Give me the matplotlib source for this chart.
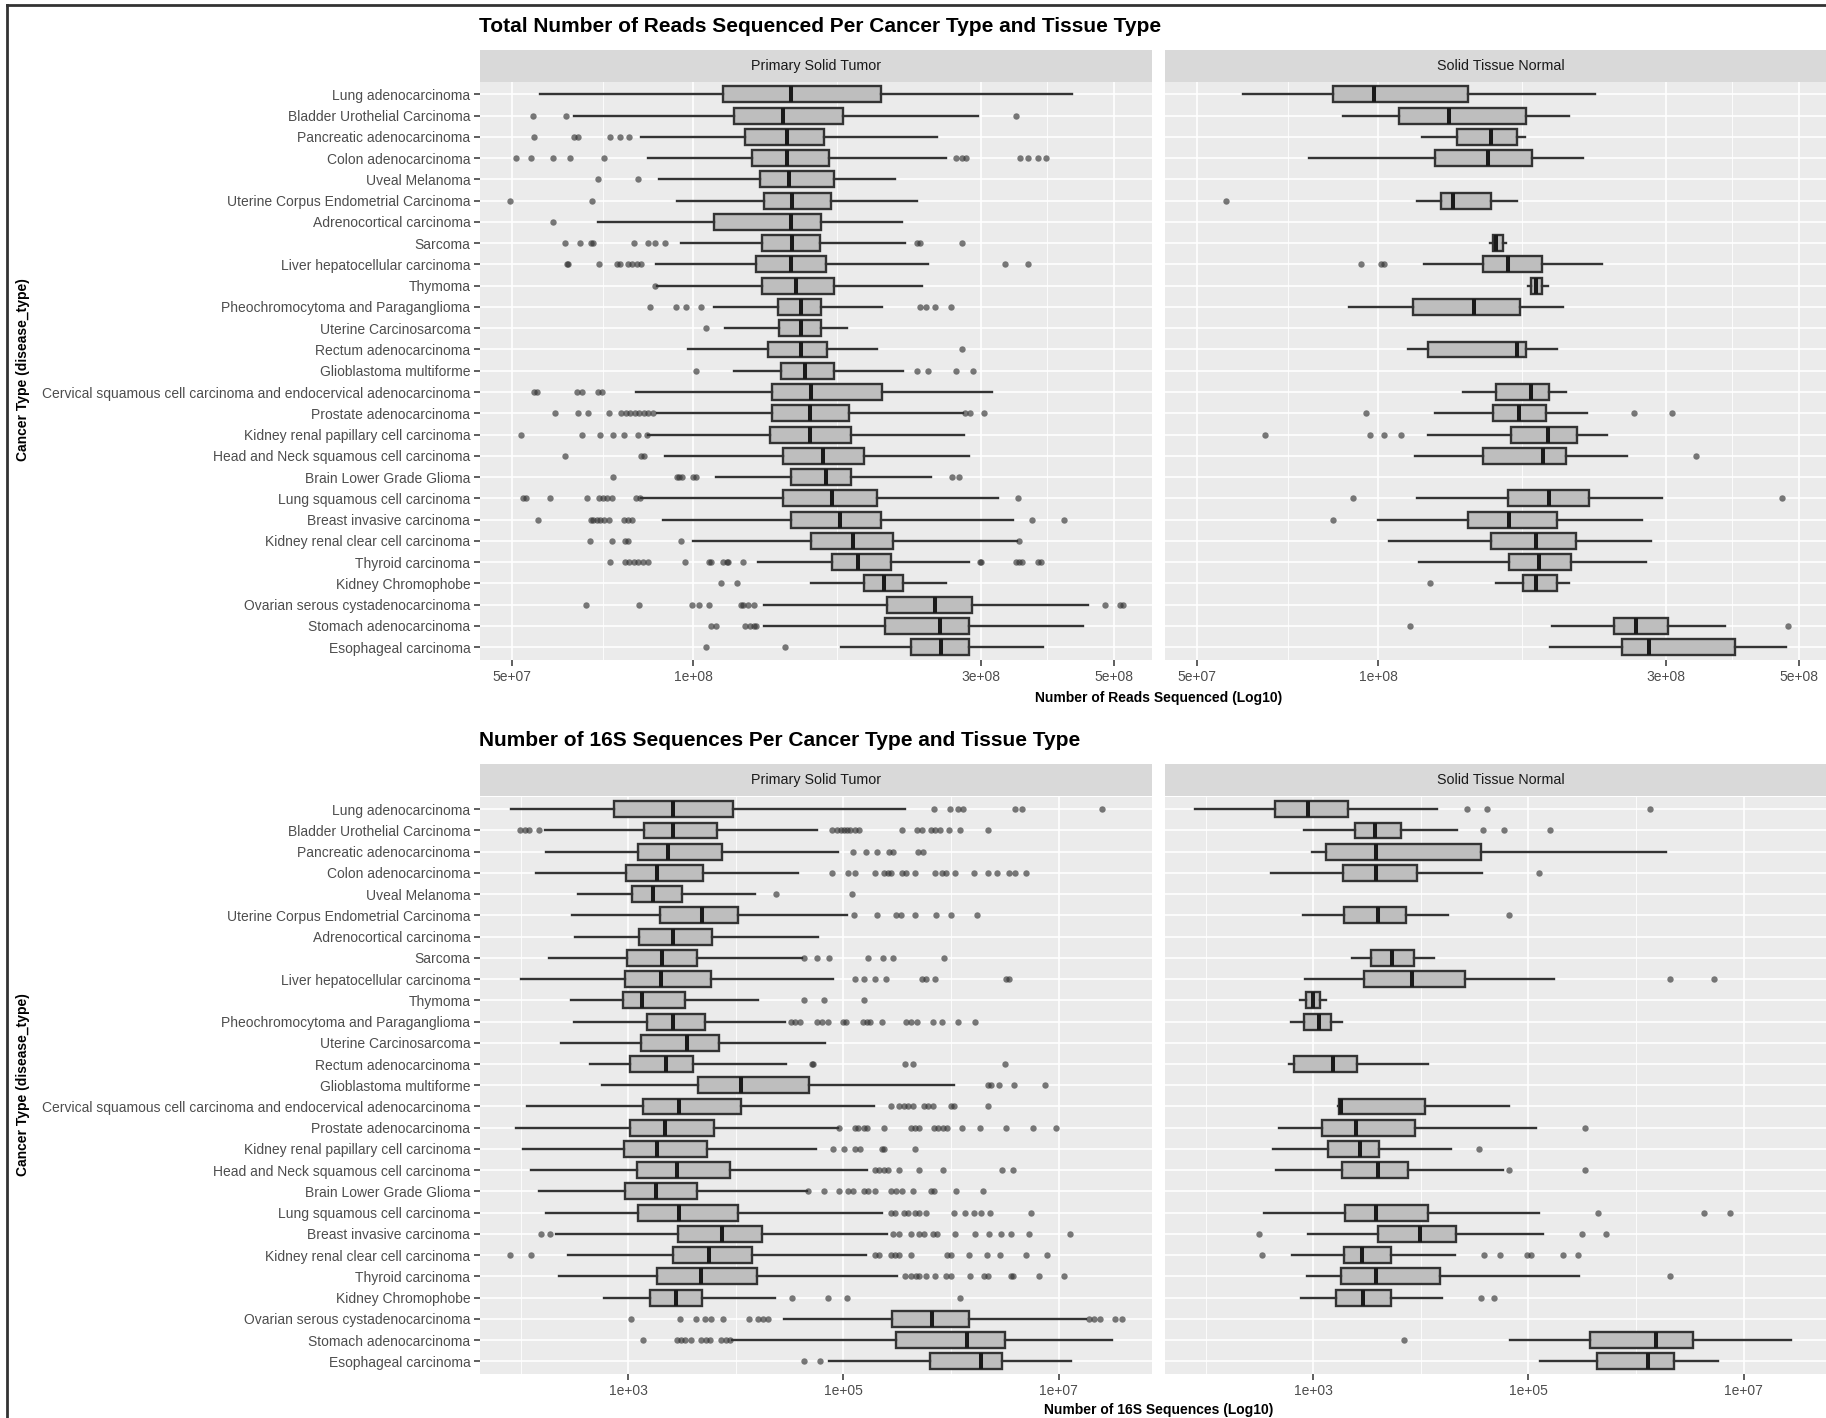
import matplotlib
matplotlib.use("Agg")
import matplotlib.pyplot as plt
from matplotlib.lines import Line2D
from matplotlib.ticker import FixedLocator, FixedFormatter, NullFormatter

plt.rcParams['font.family'] = ['Liberation Sans', 'DejaVu Sans']

categories = [
    "Lung adenocarcinoma", "Bladder Urothelial Carcinoma", "Pancreatic adenocarcinoma",
    "Colon adenocarcinoma", "Uveal Melanoma", "Uterine Corpus Endometrial Carcinoma",
    "Adrenocortical carcinoma", "Sarcoma", "Liver hepatocellular carcinoma", "Thymoma",
    "Pheochromocytoma and Paraganglioma", "Uterine Carcinosarcoma", "Rectum adenocarcinoma",
    "Glioblastoma multiforme",
    "Cervical squamous cell carcinoma and endocervical adenocarcinoma",
    "Prostate adenocarcinoma", "Kidney renal papillary cell carcinoma",
    "Head and Neck squamous cell carcinoma", "Brain Lower Grade Glioma",
    "Lung squamous cell carcinoma", "Breast invasive carcinoma",
    "Kidney renal clear cell carcinoma", "Thyroid carcinoma", "Kidney Chromophobe",
    "Ovarian serous cystadenocarcinoma", "Stomach adenocarcinoma", "Esophageal carcinoma",
]
facets = ["Primary Solid Tumor", "Solid Tissue Normal"]

# box stats per category: (whisker low, q1, median, q3, whisker high)
reads_tumor_box = [
    (5.56e7, 1.12e8, 1.45e8, 2.05e8, 4.25e8), (6.34e7, 1.17e8, 1.41e8, 1.77e8, 2.97e8),
    (8.17e7, 1.22e8, 1.43e8, 1.65e8, 2.54e8), (8.41e7, 1.25e8, 1.43e8, 1.68e8, 2.63e8),
    (8.78e7, 1.29e8, 1.44e8, 1.71e8, 2.16e8), (9.40e7, 1.31e8, 1.46e8, 1.69e8, 2.35e8),
    (6.93e7, 1.08e8, 1.45e8, 1.63e8, 2.22e8), (9.52e7, 1.30e8, 1.46e8, 1.62e8, 2.25e8),
    (8.66e7, 1.27e8, 1.45e8, 1.66e8, 2.45e8), (8.71e7, 1.30e8, 1.48e8, 1.71e8, 2.40e8),
    (1.08e8, 1.38e8, 1.51e8, 1.63e8, 2.06e8), (1.13e8, 1.39e8, 1.51e8, 1.63e8, 1.80e8),
    (9.81e7, 1.33e8, 1.51e8, 1.67e8, 2.02e8), (1.17e8, 1.40e8, 1.53e8, 1.71e8, 2.23e8),
    (8.02e7, 1.35e8, 1.57e8, 2.06e8, 3.13e8), (8.71e7, 1.35e8, 1.56e8, 1.81e8, 2.81e8),
    (8.41e7, 1.34e8, 1.56e8, 1.83e8, 2.82e8), (8.98e7, 1.41e8, 1.64e8, 1.92e8, 2.87e8),
    (1.09e8, 1.45e8, 1.66e8, 1.83e8, 2.48e8), (8.19e7, 1.41e8, 1.70e8, 2.02e8, 3.21e8),
    (8.90e7, 1.45e8, 1.75e8, 2.05e8, 3.39e8), (1.00e8, 1.57e8, 1.84e8, 2.15e8, 3.45e8),
    (1.28e8, 1.70e8, 1.88e8, 2.13e8, 2.87e8), (1.57e8, 1.92e8, 2.07e8, 2.23e8, 2.63e8),
    (1.31e8, 2.10e8, 2.52e8, 2.90e8, 4.52e8), (1.31e8, 2.08e8, 2.57e8, 2.87e8, 4.44e8),
    (1.76e8, 2.30e8, 2.58e8, 2.87e8, 3.81e8),
]
reads_tumor_out = [
    [],
    [5.41e7, 6.15e7, 3.44e8],
    [5.44e7, 6.34e7, 6.42e7, 7.27e7, 7.55e7, 7.83e7],
    [5.08e7, 5.37e7, 5.84e7, 6.23e7, 7.11e7, 2.73e8, 2.79e8, 2.84e8, 3.49e8, 3.60e8, 3.74e8, 3.86e8],
    [6.94e7, 8.09e7],
    [4.96e7, 6.78e7],
    [5.84e7],
    [6.11e7, 6.49e7, 6.77e7, 6.82e7, 7.96e7, 8.41e7, 8.63e7, 8.98e7, 2.35e8, 2.38e8, 2.79e8],
    [6.16e7, 6.20e7, 6.97e7, 7.46e7, 7.56e7, 7.79e7, 7.92e7, 8.06e7, 8.17e7, 3.29e8, 3.60e8],
    [8.63e7],
    [8.47e7, 9.37e7, 9.73e7, 1.03e8, 2.38e8, 2.43e8, 2.52e8, 2.68e8],
    [1.05e8],
    [2.79e8],
    [1.01e8, 2.35e8, 2.45e8, 2.73e8, 2.91e8],
    [5.44e7, 5.50e7, 6.40e7, 6.53e7, 6.94e7, 7.04e7],
    [5.88e7, 6.42e7, 6.68e7, 7.24e7, 7.59e7, 7.72e7, 7.86e7, 8.00e7, 8.13e7, 8.27e7, 8.41e7,
     8.56e7, 2.83e8, 2.88e8, 3.04e8],
    [5.18e7, 6.52e7, 7.00e7, 7.34e7, 7.68e7, 8.09e7, 8.38e7],
    [6.13e7, 8.17e7, 8.27e7],
    [7.34e7, 9.40e7, 9.48e7, 9.56e7, 9.98e7, 1.01e8, 2.69e8, 2.76e8],
    [5.21e7, 5.28e7, 5.77e7, 6.65e7, 6.97e7, 7.07e7, 7.19e7, 7.31e7, 8.02e7, 8.15e7, 3.46e8],
    [5.51e7, 6.75e7, 6.82e7, 6.91e7, 7.00e7, 7.10e7, 7.23e7, 7.66e7, 7.79e7, 7.92e7, 3.65e8, 4.12e8],
    [6.73e7, 7.31e7, 7.70e7, 7.79e7, 9.53e7, 3.47e8],
    [7.27e7, 7.70e7, 7.83e7, 7.96e7, 8.09e7, 8.24e7, 8.41e7, 9.70e7, 1.06e8, 1.07e8, 1.12e8,
     1.135e8, 1.14e8, 1.21e8, 2.99e8, 3.01e8, 3.44e8, 3.48e8, 3.51e8, 3.73e8, 3.78e8],
    [1.11e8, 1.18e8],
    [6.62e7, 8.13e7, 9.95e7, 1.02e8, 1.06e8, 1.20e8, 1.21e8, 1.23e8, 1.26e8, 4.82e8, 5.12e8, 5.18e8],
    [1.07e8, 1.09e8, 1.22e8, 1.24e8, 1.26e8, 1.27e8],
    [1.05e8, 1.42e8],
]

reads_normal_box = [
    (5.95e7, 8.42e7, 9.82e7, 1.41e8, 2.29e8), (8.72e7, 1.08e8, 1.31e8, 1.76e8, 2.07e8),
    (1.18e8, 1.35e8, 1.54e8, 1.70e8, 1.75e8), (7.67e7, 1.24e8, 1.52e8, 1.80e8, 2.19e8),
    None, (1.16e8, 1.27e8, 1.33e8, 1.54e8, 1.70e8),
    None, (1.53e8, 1.55e8, 1.57e8, 1.61e8, 1.63e8),
    (1.19e8, 1.49e8, 1.64e8, 1.87e8, 2.35e8), (1.77e8, 1.79e8, 1.83e8, 1.87e8, 1.91e8),
    (8.95e7, 1.14e8, 1.44e8, 1.72e8, 2.03e8), None,
    (1.12e8, 1.21e8, 1.70e8, 1.76e8, 1.98e8), None,
    (1.38e8, 1.57e8, 1.79e8, 1.92e8, 2.05e8), (1.24e8, 1.55e8, 1.71e8, 1.90e8, 2.22e8),
    (1.21e8, 1.66e8, 1.91e8, 2.14e8, 2.40e8), (1.15e8, 1.49e8, 1.88e8, 2.05e8, 2.59e8),
    None, (1.16e8, 1.64e8, 1.92e8, 2.24e8, 2.96e8),
    (1.00e8, 1.41e8, 1.65e8, 1.98e8, 2.74e8), (1.04e8, 1.54e8, 1.83e8, 2.13e8, 2.84e8),
    (1.17e8, 1.65e8, 1.85e8, 2.09e8, 2.78e8), (1.57e8, 1.74e8, 1.83e8, 1.98e8, 2.07e8),
    None, (1.94e8, 2.46e8, 2.68e8, 3.03e8, 3.77e8),
    (1.93e8, 2.54e8, 2.82e8, 3.92e8, 4.76e8),
]
reads_normal_out = [
    [], [], [], [], [], [5.58e7], [], [], [9.37e7, 1.01e8, 1.02e8], [], [], [], [], [], [],
    [9.55e7, 2.66e8, 3.08e8], [6.48e7, 9.69e7, 1.02e8, 1.09e8], [3.37e8], [],
    [9.08e7, 4.69e8], [8.39e7], [], [], [1.22e8], [], [1.13e8, 4.79e8], [],
]

seq_tumor_box = [
    (80.5, 737, 2597, 9420, 3.72e5), (168, 1410, 2597, 6620, 5.67e4),
    (171, 1222, 2316, 7420, 8.96e4), (139, 953, 1860, 4970, 3.76e4),
    (343, 1080, 1706, 3175, 1.49e4), (298, 1950, 4830, 1.04e4, 1.07e5),
    (318, 1246, 2597, 6020, 5.83e4), (181, 962, 2046, 4310, 4.14e4),
    (101, 935, 2008, 5850, 7.91e4), (292, 892, 1344, 3395, 1.61e4),
    (312, 1479, 2597, 5115, 2.85e4), (234, 1306, 3490, 6940, 6.73e4),
    (435, 1029, 2250, 3990, 2.90e4), (569, 4430, 1.12e4, 4.77e4, 1.06e6),
    (115, 1370, 2940, 1.12e4, 1.92e5), (90, 1029, 2208, 6190, 8.96e4),
    (104, 909, 1860, 5365, 5.51e4), (124, 1210, 2857, 8810, 1.67e5),
    (148, 935, 1825, 4390, 4.59e4), (173, 1222, 2940, 1.04e4, 2.26e5),
    (213, 2885, 7420, 1.75e4, 2.54e5), (276, 2597, 5570, 1.42e4, 1.62e5),
    (228, 1860, 4740, 1.56e4, 3.16e5), (592, 1581, 2750, 4830, 2.33e4),
    (2.77e4, 2.82e5, 6.65e5, 1.48e6, 1.82e7), (9250, 3.10e5, 1.41e6, 3.18e6, 3.14e7),
    (7.33e4, 6.34e5, 1.90e6, 2.98e6, 1.31e7),
]
seq_tumor_out = [
    [6.97e5, 9.75e5, 1.15e6, 1.29e6, 3.96e6, 4.57e6, 2.55e7],
    [99, 109, 120, 146, 7.77e4, 8.71e4, 9.40e4, 1.01e5, 1.08e5, 1.16e5, 1.28e5, 1.40e5, 3.54e5,
     4.85e5, 5.34e5, 6.46e5, 7.11e5, 7.82e5, 9.65e5, 1.20e6, 2.23e6],
    [1.22e5, 1.62e5, 2.06e5, 2.66e5, 2.87e5, 4.95e5, 5.44e5],
    [7.77e4, 1.11e5, 1.28e5, 1.96e5, 2.37e5, 2.61e5, 2.74e5, 3.47e5, 3.82e5, 4.63e5, 7.11e5,
     8.20e5, 9.02e5, 1.09e6, 1.63e6, 2.23e6, 2.70e6, 3.50e6, 3.96e6, 5.03e6],
    [2.36e4, 1.19e5],
    [1.25e5, 2.06e5, 3.10e5, 3.41e5, 4.63e5, 7.31e5, 9.93e5, 1.73e6],
    [],
    [4.26e4, 5.67e4, 7.33e4, 1.70e5, 2.33e5, 2.87e5, 8.61e5],
    [1.28e5, 1.54e5, 1.96e5, 2.49e5, 5.34e5, 5.87e5, 7.11e5, 3.27e6, 3.50e6],
    [4.26e4, 6.54e4, 1.54e5],
    [3.26e4, 3.52e4, 3.94e4, 5.67e4, 6.36e4, 7.19e4, 9.86e4, 1.05e5, 1.51e5, 1.65e5, 1.75e5,
     2.26e5, 3.82e5, 4.29e5, 4.85e5, 6.78e5, 8.20e5, 1.15e6, 1.68e6],
    [],
    [5.05e4, 5.25e4, 3.72e5, 4.41e5, 3.18e6],
    [2.19e6, 2.34e6, 2.79e6, 3.89e6, 7.51e6],
    [2.74e5, 3.31e5, 3.65e5, 4.01e5, 4.41e5, 5.60e5, 6.16e5, 6.78e5, 9.93e5, 1.07e6, 2.19e6],
    [9.14e4, 1.28e5, 1.38e5, 1.54e5, 1.67e5, 2.37e5, 4.29e5, 4.63e5, 5.09e5, 6.91e5, 7.60e5,
     8.36e5, 9.20e5, 1.26e6, 1.85e6, 3.27e6, 5.80e6, 9.53e6],
    [7.91e4, 1.02e5, 1.28e5, 1.43e5, 2.26e5, 2.37e5, 4.63e5],
    [1.96e5, 2.16e5, 2.37e5, 2.61e5, 3.31e5, 5.09e5, 8.36e5, 2.98e6, 3.78e6],
    [4.68e4, 6.54e4, 9.14e4, 1.11e5, 1.22e5, 1.54e5, 1.70e5, 1.96e5, 2.79e5, 3.10e5, 3.47e5,
     4.41e5, 6.46e5, 6.91e5, 1.11e6, 1.99e6],
    [2.74e5, 3.01e5, 3.65e5, 4.01e5, 4.63e5, 5.09e5, 5.87e5, 1.06e6, 1.35e6, 1.63e6, 1.90e6,
     2.30e6, 5.53e6],
    [153, 188, 2.87e5, 3.31e5, 4.21e5, 5.09e5, 5.60e5, 6.78e5, 7.46e5, 1.09e6, 1.68e6, 2.28e6,
     2.92e6, 3.60e6, 5.27e6, 1.27e7],
    [79.8, 124, 1.96e5, 2.16e5, 2.74e5, 3.01e5, 3.31e5, 4.29e5, 9.20e5, 9.93e5, 1.46e6, 2.17e6,
     2.84e6, 5.03e6, 7.87e6],
    [3.72e5, 4.21e5, 4.72e5, 5.09e5, 5.87e5, 7.11e5, 9.02e5, 9.93e5, 1.50e6, 2.03e6, 2.23e6,
     3.60e6, 3.78e6, 6.57e6, 1.13e7],
    [3.35e4, 7.19e4, 1.08e5, 1.22e6],
    [1049, 3026, 4225, 5115, 5900, 7630, 1.32e4, 1.61e4, 1.80e4, 1.98e4, 1.91e7, 2.15e7, 2.43e7,
     3.33e7, 3.92e7],
    [1370, 2857, 3085, 3395, 3840, 4740, 5215, 5735, 7280, 8010, 8810],
    [4.34e4, 6.06e4],
]

seq_normal_box = [
    (79.8, 441, 897, 2089, 1.40e4), (811, 2415, 3737, 6570, 2.16e4),
    (973, 1314, 3805, 3.63e4, 1.89e6), (403, 1890, 3840, 9270, 3.70e4),
    None, (797, 1941, 3984, 7260, 1.80e4),
    None, (2265, 3413, 5378, 8710, 1.31e4),
    (834, 2977, 8320, 2.57e4, 1.73e5), (748, 849, 1000, 1157, 1314),
    (618, 811, 1125, 1465, 1839), None,
    (596, 664, 1533, 2528, 1.16e4), None,
    (1700, 1726, 1806, 1.09e4, 6.55e4), (483, 1199, 2483, 8870, 1.18e5),
    (422, 1375, 2718, 4093, 1.92e4), (453, 1839, 4020, 7600, 5.82e4),
    None, (351, 1978, 3840, 1.16e4, 1.26e5),
    (897, 4020, 9710, 2.10e4, 1.36e5), (635, 1925, 2845, 5280, 2.07e4),
    (873, 1806, 3840, 1.49e4, 2.94e5), (761, 1619, 2924, 5280, 1.56e4),
    None, (6.73e4, 3.75e5, 1.54e6, 3.36e6, 2.77e7),
    (1.27e5, 4.30e5, 1.28e6, 2.27e6, 5.74e6),
]
seq_normal_out = [
    [2.71e4, 4.16e4, 1.35e6], [3.80e4, 5.87e4, 1.60e5], [], [1.26e5], [], [6.55e4], [], [],
    [2.07e6, 5.29e6], [], [], [], [], [], [], [3.37e5], [3.47e4], [6.61e4, 3.37e5], [],
    [4.42e5, 4.30e6, 7.41e6], [315, 3.13e5, 5.21e5],
    [333, 3.90e4, 5.46e4, 9.69e4, 1.06e5, 2.08e5, 2.86e5], [2.07e6], [3.63e4, 4.77e4], [],
    [6935], [],
]

reads_ticks = [5e7, 1e8, 3e8, 5e8]
reads_tick_labels = ["5e+07", "1e+08", "3e+08", "5e+08"]
reads_minor = [7.07e7, 1.73e8, 3.87e8]
seq_ticks = [1e3, 1e5, 1e7]
seq_tick_labels = ["1e+03", "1e+05", "1e+07"]
seq_minor = [1e2, 1e4, 1e6]

W, H = 1826, 1418
fig = plt.figure(figsize=(W / 100, H / 100), dpi=100)


def rect(x0, y0, x1, y1):
    return [x0 / W, 1 - y1 / H, (x1 - x0) / W, (y1 - y0) / H]


def draw_facet(pos, boxes, outs, xlim, ticks, tick_labels, minor, show_y):
    ax = fig.add_axes(pos)
    ax.set_facecolor('#EBEBEB')
    stats, where = [], []
    for i, b in enumerate(boxes):
        if b is None:
            continue
        stats.append({'whislo': b[0], 'q1': b[1], 'med': b[2], 'q3': b[3],
                      'whishi': b[4], 'fliers': outs[i]})
        where.append(i + 1)
    ax.bxp(stats, positions=where, widths=0.75, orientation='horizontal',
           patch_artist=True, showcaps=False,
           boxprops=dict(facecolor='#BEBEBE', edgecolor='#333333', linewidth=1.7),
           medianprops=dict(color='#1A1A1A', linewidth=2.9, solid_capstyle='butt'),
           whiskerprops=dict(color='#333333', linewidth=1.7),
           flierprops=dict(marker='o', markersize=4.6, markerfacecolor='#333333',
                           markeredgecolor='none', alpha=0.65))
    ax.set_xscale('log')
    ax.set_xlim(xlim)
    ax.set_ylim(len(categories) + 0.6, 0.4)
    ax.xaxis.set_major_locator(FixedLocator(ticks))
    ax.xaxis.set_major_formatter(FixedFormatter(tick_labels))
    ax.xaxis.set_minor_locator(FixedLocator(minor))
    ax.xaxis.set_minor_formatter(NullFormatter())
    ax.set_yticks(range(1, len(categories) + 1))
    if show_y:
        ax.set_yticklabels(categories)
        ax.tick_params(axis='y', length=4, width=1.1, color='#333333',
                       labelcolor='#4D4D4D', labelsize=10, pad=3)
    else:
        ax.set_yticklabels([])
        ax.tick_params(axis='y', length=0)
    ax.tick_params(axis='x', which='major', length=4, width=1.1, color='#333333',
                   labelcolor='#4D4D4D', labelsize=10, pad=3)
    ax.tick_params(axis='x', which='minor', length=0)
    ax.grid(which='major', color='white', linewidth=1.2)
    ax.grid(which='minor', axis='x', color='white', linewidth=0.6)
    ax.set_axisbelow(True)
    for s in ax.spines.values():
        s.set_visible(False)
    return ax


def draw_strip(pos, label):
    ax = fig.add_axes(pos)
    ax.set_facecolor('#D9D9D9')
    ax.set_xticks([])
    ax.set_yticks([])
    for s in ax.spines.values():
        s.set_visible(False)
    ax.text(0.5, 0.5, label, ha='center', va='center', fontsize=10.3, color='#1A1A1A',
            transform=ax.transAxes)


reads_lim = (4.42e7, 5.78e8)
seq_lim = (41.7, 7.4e7)

# top block: total reads
draw_facet(rect(480, 81.5, 1152, 660), reads_tumor_box, reads_tumor_out, reads_lim,
           reads_ticks, reads_tick_labels, reads_minor, True)
draw_facet(rect(1165, 81.5, 1837, 660), reads_normal_box, reads_normal_out, reads_lim,
           reads_ticks, reads_tick_labels, reads_minor, False)
draw_strip(rect(480, 50, 1152, 81.5), facets[0])
draw_strip(rect(1165, 50, 1837, 81.5), facets[1])

# bottom block: 16S sequences
draw_facet(rect(480, 796.5, 1152, 1374), seq_tumor_box, seq_tumor_out, seq_lim,
           seq_ticks, seq_tick_labels, seq_minor, True)
draw_facet(rect(1165, 796.5, 1837, 1374), seq_normal_box, seq_normal_out, seq_lim,
           seq_ticks, seq_tick_labels, seq_minor, False)
draw_strip(rect(480, 764, 1152, 796.5), facets[0])
draw_strip(rect(1165, 764, 1837, 796.5), facets[1])

fig.text(479 / W, 1 - 26.5 / H, "Total Number of Reads Sequenced Per Cancer Type and Tissue Type",
         ha='left', va='center', fontsize=15, fontweight='bold', color='black')
fig.text(479 / W, 1 - 740 / H, "Number of 16S Sequences Per Cancer Type and Tissue Type",
         ha='left', va='center', fontsize=15, fontweight='bold', color='black')
fig.text(1159 / W, 1 - 698 / H, "Number of Reads Sequenced (Log10)",
         ha='center', va='center', fontsize=10, fontweight='bold')
fig.text(1159 / W, 1 - 1410 / H, "Number of 16S Sequences (Log10)",
         ha='center', va='center', fontsize=10, fontweight='bold')
fig.text(23 / W, 1 - 370 / H, "Cancer Type (disease_type)", rotation=90,
         ha='center', va='center', fontsize=10, fontweight='bold')
fig.text(23 / W, 1 - 1085 / H, "Cancer Type (disease_type)", rotation=90,
         ha='center', va='center', fontsize=10, fontweight='bold')

# frame on top and left edges
fig.add_artist(Line2D([7 / W, 7 / W], [0, 1 - 5 / H], transform=fig.transFigure,
                      color='#333333', linewidth=2))
fig.add_artist(Line2D([7 / W, 1], [1 - 5 / H, 1 - 5 / H], transform=fig.transFigure,
                      color='#333333', linewidth=2))

fig.savefig('out.png', dpi=100)
